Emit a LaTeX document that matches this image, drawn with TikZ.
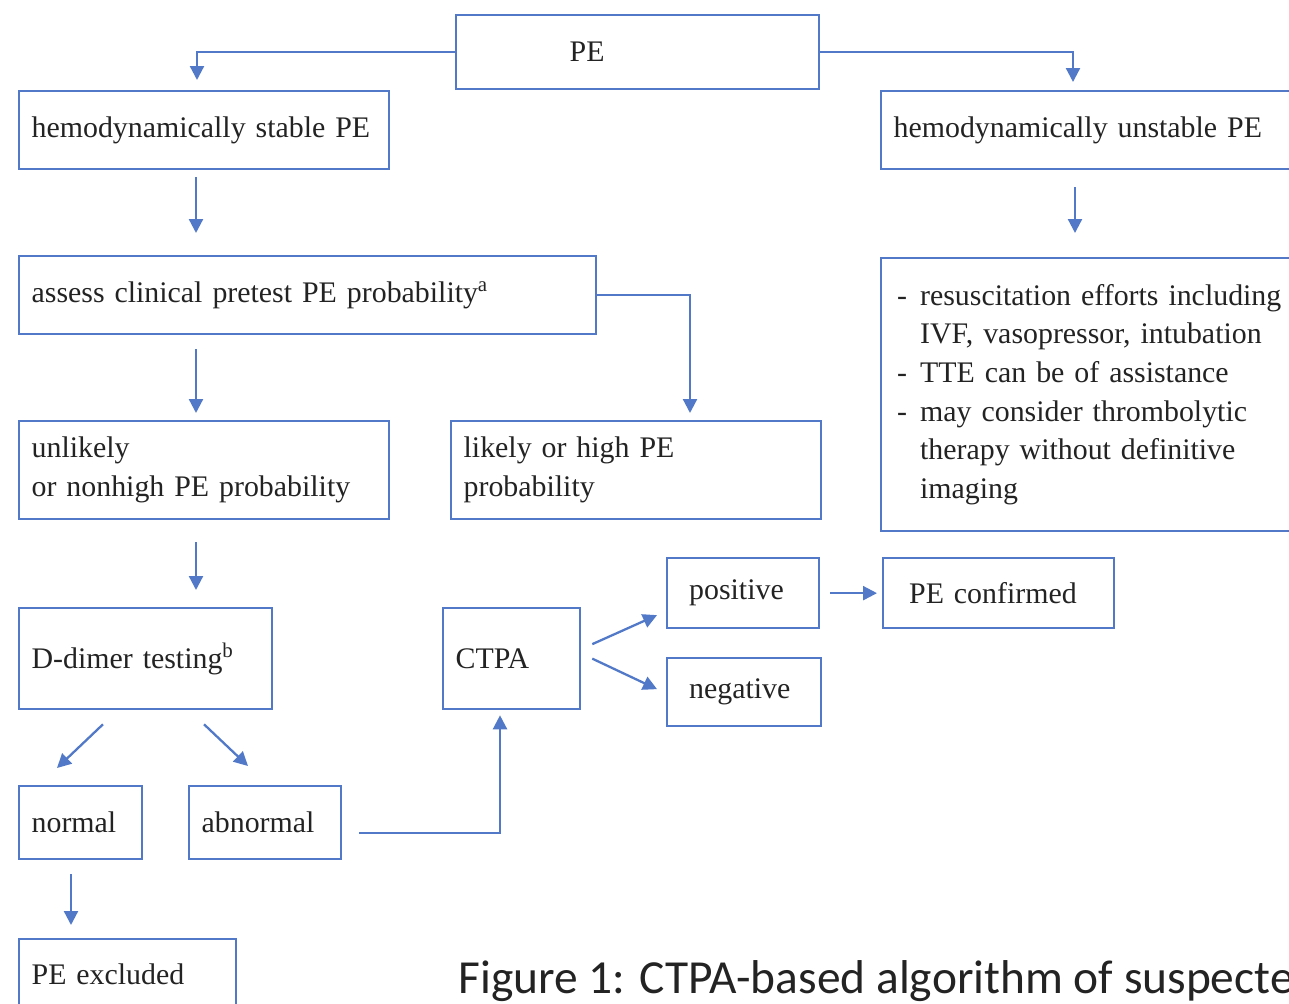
\documentclass[tikz,border=0pt]{standalone}
\usepackage{fontspec}
\setmainfont{Liberation Serif}
\newfontfamily\capfont{Carlito}
\usepackage{tikz}
\usetikzlibrary{arrows.meta,positioning}
\definecolor{flowblue}{RGB}{82,121,200}
\definecolor{inkgray}{RGB}{35,35,35}
\newcommand{\itemdash}{\makebox[0.46cm][l]{-}}
\newcommand{\itemgap}{\hspace*{0.46cm}}

\begin{document}
\begin{tikzpicture}[font=\fontsize{17}{22}\selectfont, text=inkgray,
  box/.style={draw=flowblue, line width=1.3pt, anchor=north west, align=left, inner xsep=0.25cm, inner ysep=0pt},
  flow/.style={draw=flowblue, line width=1.3pt, -{Triangle[length=0.28cm,width=0.28cm]}}]
\useasboundingbox (0,0) rectangle (25.78,-20.06);
\clip (0,0) rectangle (25.78,-20.06);
% top level
\node[box, text width=6.76cm, minimum height=1.48cm] (pe) at (9.10,-0.28) {\hspace*{2.02cm}PE};
\node[box, text width=6.90cm, minimum height=1.56cm] (stable) at (0.36,-1.80) {hemodynamically stable PE};
\node[box, text width=8.50cm, minimum height=1.56cm] (unstable) at (17.60,-1.80) {hemodynamically unstable PE};
% stable branch
\node[box, text width=11.04cm, minimum height=1.56cm] (assess) at (0.36,-5.10) {assess clinical pretest PE probability\textsuperscript{a}};
\node[box, text width=6.90cm, minimum height=1.96cm] (unlikely) at (0.36,-8.40) {unlikely\\or nonhigh PE probability};
\node[box, text width=6.90cm, minimum height=1.96cm] (likely) at (9.00,-8.40) {likely or high PE\\probability};
\node[box, inner xsep=0.32cm, text width=8.36cm, minimum height=5.46cm] (resus) at (17.60,-5.14)
  {\itemdash resuscitation efforts including\\\itemgap IVF, vasopressor, intubation\\\itemdash TTE can be of assistance\\\itemdash may consider thrombolytic\\\itemgap therapy without definitive\\\itemgap imaging};
\node[box, text width=4.56cm, minimum height=2.02cm] (ddimer) at (0.36,-12.14) {D-dimer testing\textsuperscript{b}};
\node[box, text width=2.24cm, minimum height=2.02cm] (ctpa) at (8.84,-12.14) {CTPA};
\node[box, inner xsep=0.44cm, text width=2.16cm, minimum height=1.40cm] (positive) at (13.32,-11.14) {positive};
\node[box, inner xsep=0.44cm, text width=2.20cm, minimum height=1.36cm] (negative) at (13.32,-13.14) {negative};
\node[box, inner xsep=0.52cm, text width=3.58cm, minimum height=1.40cm] (confirmed) at (17.64,-11.14) {PE confirmed};
\node[box, text width=1.96cm, minimum height=1.46cm] (normal) at (0.36,-15.70) {normal};
\node[box, text width=2.54cm, minimum height=1.46cm] (abnormal) at (3.76,-15.70) {abnormal};
\node[box, text width=3.84cm, minimum height=1.40cm] (excluded) at (0.36,-18.76) {PE excluded};
\node[anchor=base west, font=\capfont\fontsize{27}{32}\selectfont, inner sep=0pt] (caption) at (9.16,-19.86) {Figure 1: CTPA-based algorithm of suspecte};
% connectors
\draw[flow, shorten >=0.2cm] (pe.west) -| ([xshift=3.58cm]stable.north west);
\draw[flow, shorten >=0.16cm] (pe.east) -| ([xshift=3.86cm]unstable.north west);
\draw[flow, shorten <=0.14cm, shorten >=0.44cm] ([xshift=3.56cm]stable.south west) -- ([xshift=3.56cm]assess.north west);
\draw[flow, shorten <=0.34cm, shorten >=0.48cm] ([xshift=3.90cm]unstable.south west) -- ([xshift=3.90cm]resus.north west);
\draw[flow, shorten >=0.14cm] (assess.east) -| ([xshift=4.80cm]likely.north west);
\draw[flow, shorten <=0.28cm, shorten >=0.14cm] ([xshift=3.56cm]assess.south west) -- ([xshift=3.56cm]unlikely.north west);
\draw[flow, shorten <=0.44cm, shorten >=0.34cm] ([xshift=3.56cm]unlikely.south west) -- ([xshift=3.56cm]ddimer.north west);
\draw[flow] ([xshift=1.70cm,yshift=-0.28cm]ddimer.south west) -- ([xshift=0.78cm,yshift=0.34cm]normal.north west);
\draw[flow] ([xshift=3.72cm,yshift=-0.28cm]ddimer.south west) -- ([xshift=1.20cm,yshift=0.38cm]abnormal.north west);
\draw[flow, shorten <=0.28cm, shorten >=0.26cm] ([xshift=1.06cm]normal.south west) -- ([xshift=1.06cm]excluded.north west);
\draw[flow] ([xshift=0.34cm,yshift=-0.21cm]abnormal.east) -| ([xshift=1.16cm,yshift=-0.10cm]ctpa.south west);
\draw[flow] ([xshift=0.22cm,yshift=0.29cm]ctpa.east) -- ([xshift=-0.18cm,yshift=-0.44cm]positive.west);
\draw[flow] ([xshift=0.22cm]ctpa.east) -- ([xshift=-0.18cm,yshift=0.06cm]negative.west);
\draw[flow, shorten <=0.2cm, shorten >=0.1cm] (positive) -- (confirmed);
\end{tikzpicture}
\end{document}
